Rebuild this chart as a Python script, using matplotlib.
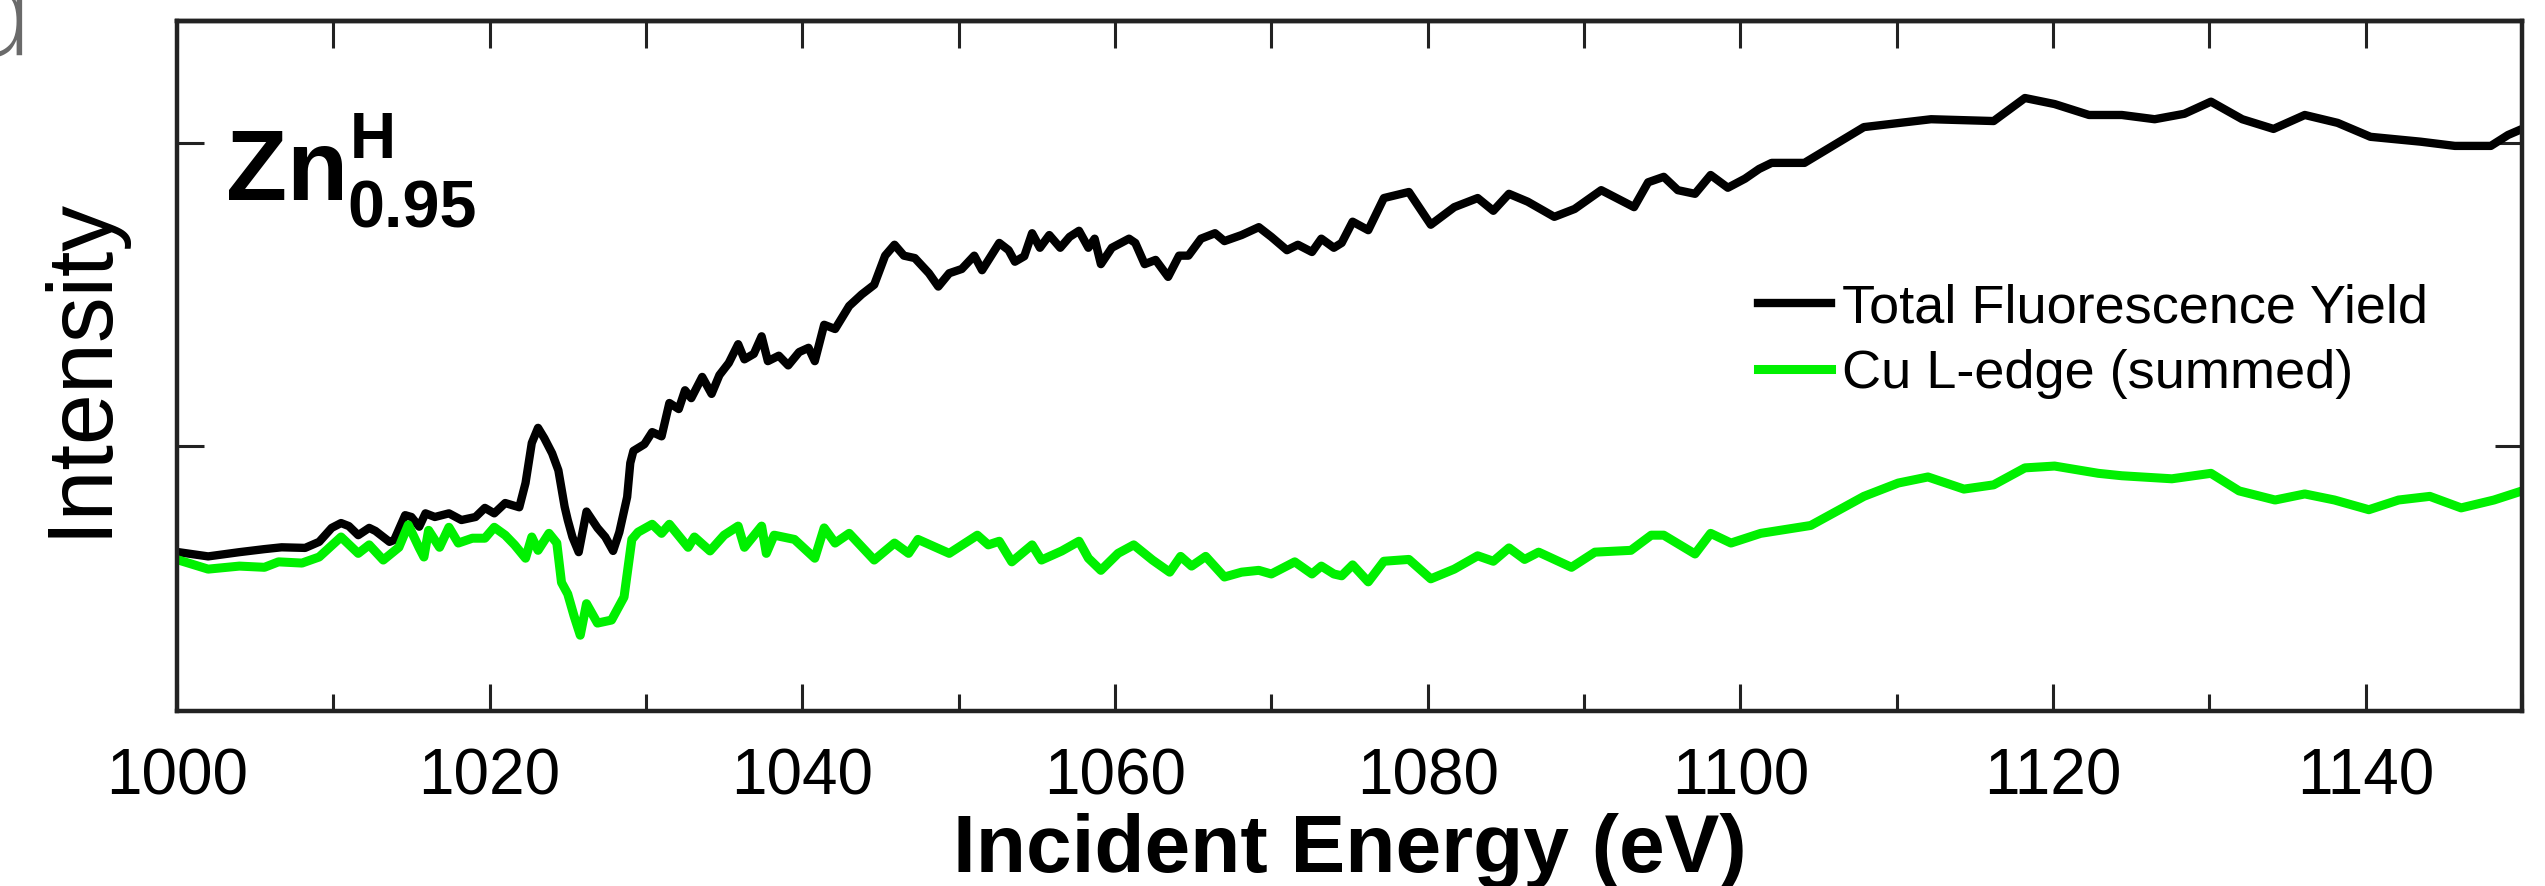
import matplotlib
matplotlib.use("Agg")
import matplotlib.pyplot as plt
from matplotlib.ticker import MultipleLocator

plt.rcParams['font.family'] = ['Liberation Sans', 'DejaVu Sans']

# Total fluorescence yield (black trace), energy in eV vs intensity (arb. units)
tfy_energy = [1000.1, 1002.0, 1004.0, 1005.6, 1006.7, 1008.2, 1009.1, 1009.9, 1010.5, 1011.0,
              1011.6, 1012.3, 1012.7, 1013.6, 1013.9, 1014.6, 1015.0, 1015.5, 1015.9, 1016.5,
              1017.4, 1018.2, 1019.1, 1019.7, 1020.3, 1021.0, 1021.9, 1022.3, 1022.7, 1023.1,
              1023.5, 1024.0, 1024.4, 1024.8, 1025.0, 1025.3, 1025.7, 1026.2, 1026.9, 1027.4,
              1027.9, 1028.3, 1028.8, 1029.0, 1029.2, 1029.9, 1030.4, 1031.0, 1031.5, 1032.1,
              1032.5, 1032.9, 1033.6, 1034.2, 1034.7, 1035.3, 1035.9, 1036.3, 1036.9, 1037.4,
              1037.8, 1038.5, 1039.1, 1039.8, 1040.4, 1040.8, 1041.4, 1042.1, 1043.0, 1043.8,
              1044.6, 1045.3, 1045.9, 1046.5, 1047.2, 1048.1, 1048.7, 1049.4, 1050.2, 1051.0,
              1051.5, 1052.6, 1053.2, 1053.6, 1054.2, 1054.7, 1055.2, 1055.8, 1056.5, 1057.1,
              1057.7, 1058.3, 1058.7, 1059.1, 1059.8, 1060.9, 1061.3, 1061.9, 1062.6, 1063.4,
              1064.1, 1064.7, 1065.5, 1066.4, 1067.0, 1068.1, 1069.2, 1070.0, 1071.0, 1071.7,
              1072.6, 1073.2, 1074.0, 1074.5, 1075.2, 1076.2, 1077.2, 1078.8, 1080.2, 1081.7,
              1083.2, 1084.2, 1085.2, 1086.4, 1088.1, 1089.4, 1091.1, 1093.2, 1094.1, 1095.1,
              1096.0, 1097.1, 1098.1, 1099.2, 1100.3, 1101.2, 1102.0, 1104.1, 1107.9, 1112.2,
              1116.2, 1118.2, 1120.1, 1122.3, 1124.4, 1126.5, 1128.4, 1130.1, 1132.1, 1134.1,
              1136.1, 1138.2, 1140.3, 1143.5, 1145.7, 1148.0, 1149.1, 1150.0]
tfy_intensity = [0.325, 0.318, 0.325, 0.330, 0.333, 0.332, 0.342, 0.365, 0.373, 0.368,
                 0.353, 0.365, 0.360, 0.342, 0.345, 0.386, 0.383, 0.367, 0.389, 0.383,
                 0.389, 0.378, 0.383, 0.398, 0.389, 0.406, 0.399, 0.439, 0.505, 0.530,
                 0.513, 0.488, 0.460, 0.400, 0.378, 0.350, 0.325, 0.392, 0.365, 0.350,
                 0.327, 0.358, 0.416, 0.472, 0.492, 0.503, 0.523, 0.516, 0.571, 0.561,
                 0.592, 0.579, 0.614, 0.586, 0.617, 0.637, 0.668, 0.643, 0.652, 0.681,
                 0.640, 0.649, 0.633, 0.655, 0.662, 0.640, 0.700, 0.693, 0.731, 0.750,
                 0.766, 0.814, 0.832, 0.814, 0.810, 0.785, 0.763, 0.785, 0.792, 0.814,
                 0.790, 0.835, 0.823, 0.804, 0.813, 0.851, 0.827, 0.848, 0.827, 0.845,
                 0.855, 0.827, 0.842, 0.800, 0.827, 0.842, 0.835, 0.800, 0.807, 0.779,
                 0.814, 0.814, 0.842, 0.851, 0.838, 0.848, 0.861, 0.845, 0.823, 0.832,
                 0.820, 0.842, 0.827, 0.835, 0.870, 0.856, 0.909, 0.919, 0.865, 0.894,
                 0.909, 0.888, 0.916, 0.903, 0.878, 0.891, 0.922, 0.894, 0.935, 0.944,
                 0.922, 0.916, 0.947, 0.926, 0.941, 0.957, 0.967, 0.967, 1.026, 1.039,
                 1.036, 1.074, 1.064, 1.046, 1.046, 1.039, 1.048, 1.068, 1.039, 1.023,
                 1.046, 1.033, 1.010, 1.002, 0.995, 0.995, 1.013, 1.023]

# Cu L-edge partial fluorescence, summed (green trace)
cu_energy = [1000.1, 1002.0, 1004.0, 1005.6, 1006.5, 1008.0, 1009.1, 1010.5, 1011.6, 1012.3,
             1013.2, 1014.2, 1014.8, 1015.5, 1015.8, 1016.1, 1016.8, 1017.4, 1018.0, 1018.9,
             1019.7, 1020.3, 1021.0, 1021.6, 1022.3, 1022.7, 1023.1, 1023.8, 1024.3, 1024.6,
             1025.0, 1025.4, 1025.8, 1026.2, 1026.9, 1027.8, 1028.6, 1029.1, 1029.5, 1030.4,
             1031.0, 1031.5, 1032.7, 1033.1, 1034.1, 1035.0, 1035.9, 1036.3, 1037.4, 1037.7,
             1038.2, 1039.5, 1040.8, 1041.4, 1042.1, 1043.0, 1044.6, 1045.9, 1046.8, 1047.4,
             1049.4, 1051.2, 1051.9, 1052.6, 1053.4, 1054.7, 1055.3, 1056.6, 1057.7, 1058.3,
             1059.1, 1060.2, 1061.2, 1062.4, 1063.5, 1064.2, 1064.9, 1065.8, 1067.0, 1068.1,
             1069.2, 1070.0, 1071.5, 1072.6, 1073.2, 1074.0, 1074.5, 1075.2, 1076.2, 1077.2,
             1078.8, 1080.2, 1081.7, 1083.2, 1084.2, 1085.2, 1086.2, 1087.1, 1089.2, 1090.7,
             1093.0, 1094.3, 1095.1, 1097.1, 1098.1, 1099.4, 1101.3, 1104.5, 1107.9, 1110.1,
             1112.0, 1114.3, 1116.2, 1118.2, 1120.1, 1122.9, 1124.4, 1127.6, 1130.1, 1131.9,
             1134.2, 1136.1, 1138.0, 1140.2, 1142.1, 1144.1, 1146.1, 1148.2, 1150.0]
cu_intensity = [0.312, 0.297, 0.302, 0.300, 0.309, 0.307, 0.317, 0.350, 0.323, 0.337,
                0.312, 0.333, 0.370, 0.332, 0.317, 0.361, 0.333, 0.366, 0.340, 0.348,
                0.348, 0.366, 0.353, 0.337, 0.315, 0.350, 0.328, 0.356, 0.340, 0.275,
                0.256, 0.220, 0.188, 0.240, 0.208, 0.213, 0.251, 0.346, 0.358, 0.371,
                0.356, 0.371, 0.333, 0.350, 0.327, 0.353, 0.368, 0.333, 0.368, 0.323,
                0.353, 0.346, 0.315, 0.365, 0.340, 0.356, 0.312, 0.340, 0.323, 0.346,
                0.323, 0.353, 0.337, 0.343, 0.309, 0.337, 0.312, 0.327, 0.343, 0.315,
                0.295, 0.323, 0.337, 0.312, 0.292, 0.318, 0.302, 0.318, 0.284, 0.292,
                0.295, 0.289, 0.309, 0.289, 0.302, 0.289, 0.286, 0.304, 0.276, 0.310,
                0.313, 0.281, 0.297, 0.319, 0.310, 0.332, 0.313, 0.325, 0.300, 0.325,
                0.328, 0.353, 0.353, 0.322, 0.356, 0.340, 0.356, 0.369, 0.417, 0.439,
                0.449, 0.429, 0.436, 0.464, 0.467, 0.455, 0.451, 0.446, 0.455, 0.426,
                0.411, 0.421, 0.411, 0.395, 0.411, 0.417, 0.398, 0.411, 0.426]

x_major = list(range(1000, 1151, 20))
x_top = list(range(1000, 1151, 10))
y_ticks = [0.5, 1.0]

fig = plt.figure(figsize=(25.45, 8.86), dpi=100)
ax = fig.add_axes([0.0695, 0.1975, 0.9215, 0.7788])

ax.plot(tfy_energy, tfy_intensity, color='black', lw=6,
        solid_joinstyle='round', label='Total Fluorescence Yield')
ax.plot(cu_energy, cu_intensity, color='#00f000', lw=6.5,
        solid_joinstyle='round', label='Cu L-edge (summed)')

ax.set_xlim(1000, 1150)
ax.set_ylim(0.063, 1.201)

# bottom axis: labelled majors every 20 eV, minors every 10 eV
ax.set_xticks(x_major)
ax.xaxis.set_minor_locator(MultipleLocator(10))
ax.set_yticks(y_ticks)
ax.set_yticklabels([])
ax.tick_params(which='major', direction='in', length=19.5, width=2.2, color='#222222',
               right=True, pad=26, labelsize=46)
ax.tick_params(which='minor', direction='in', length=12.2, width=2.2, color='#222222')

# top axis carries equal-length ticks every 10 eV
top = ax.secondary_xaxis('top')
top.set_xticks(x_top)
top.tick_params(direction='in', length=19.5, width=2.2, color='#222222', labeltop=False)
top.spines['top'].set_linewidth(3.2)
top.spines['top'].set_color('#222222')

for sp in ax.spines.values():
    sp.set_linewidth(3.2)
    sp.set_color('#222222')

ax.set_xlabel('Incident Energy (eV)', fontsize=59, fontweight='bold', va='baseline')
ax.xaxis.set_label_coords(0.5, -0.2333)
ax.set_ylabel('Intensity', fontsize=66, va='baseline')
ax.yaxis.set_label_coords(-0.0307, 0.5)

# sample label Zn^H_0.95
ax.text(0.0209, 0.7406, 'Zn', transform=ax.transAxes, fontsize=72,
        fontweight='bold', ha='left', va='baseline')
ax.text(0.0738, 0.8014, 'H', transform=ax.transAxes, fontsize=46,
        fontweight='bold', ha='left', va='baseline')
ax.text(0.0725, 0.7014, '0.95', transform=ax.transAxes, fontsize=48,
        fontweight='bold', ha='left', va='baseline')

ax.legend(loc='center left', bbox_to_anchor=(0.674, 0.536), frameon=False,
          fontsize=39, handlelength=1.35, handletextpad=0.2, labelspacing=0.3,
          borderpad=0, borderaxespad=0)

# panel letter, partly outside the top-left corner
fig.text(36 / 2545, 1 - 55 / 886, 'd', fontsize=90, color='#6a6a6a',
         family='DejaVu Sans', fontweight='light', ha='right', va='baseline')

fig.savefig('out.png', dpi=100)
